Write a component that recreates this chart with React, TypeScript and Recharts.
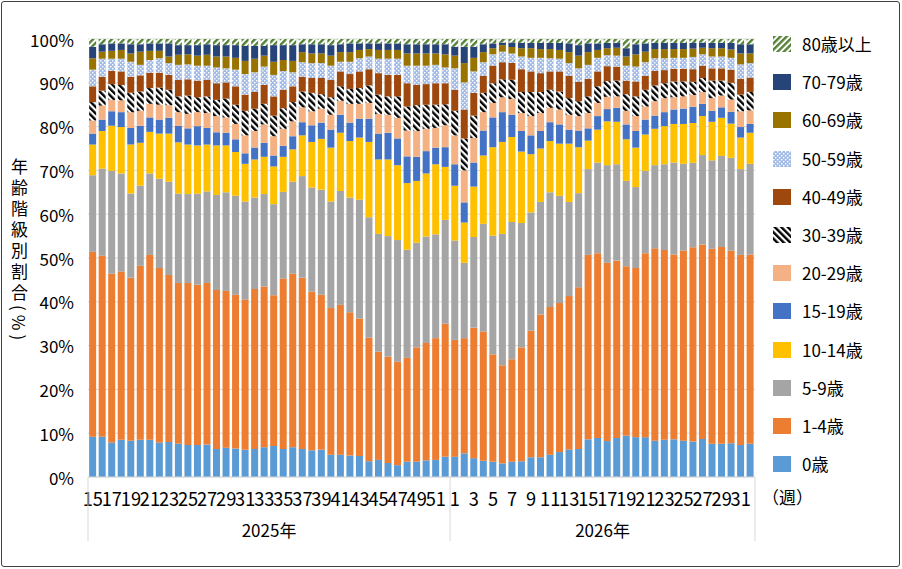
import React from "react";
import { Bar, BarChart, CartesianGrid, XAxis, YAxis } from "recharts";

const FONT = '"Noto Sans CJK JP", "Noto Sans", sans-serif';

// Week numbers shown on the category axis (2025: W15–W52, 2026: W1–W32)
const weeks2025 = [
  15, 16, 17, 18, 19, 20, 21, 22, 23, 24, 25, 26, 27, 28, 29, 30, 31, 32, 33,
  34, 35, 36, 37, 38, 39, 40, 41, 42, 43, 44, 45, 46, 47, 48, 49, 50, 51, 52,
];
const weeks2026 = [
  1, 2, 3, 4, 5, 6, 7, 8, 9, 10, 11, 12, 13, 14, 15, 16, 17, 18, 19, 20, 21,
  22, 23, 24, 25, 26, 27, 28, 29, 30, 31, 32,
];

// Share of reported cases per age band (%), one value per week
const age0 = [
  9.2, 9.2, 7.9, 8.5, 8.3, 8.5, 8.5, 7.9, 8.0, 7.6,
  7.3, 7.3, 7.4, 6.4, 6.7, 6.5, 6.2, 6.4, 6.8, 7.1,
  6.4, 6.8, 6.4, 6.1, 6.2, 5.1, 5.1, 4.9, 4.8, 3.6,
  3.9, 3.2, 2.7, 3.5, 3.5, 3.8, 3.9, 4.6, 4.6, 5.4,
  4.3, 3.7, 3.5, 3.1, 3.5, 3.6, 4.5, 4.5, 5.1, 5.7,
  6.3, 6.4, 8.6, 8.9, 8.2, 8.9, 9.4, 9.1, 9.1, 8.3,
  8.5, 8.6, 8.3, 8.1, 8.7, 7.6, 7.6, 7.7, 7.3, 7.6,
];
const age1to4 = [
  42.2, 41.3, 38.5, 38.4, 37.2, 39.7, 42.2, 39.8, 38.1, 36.7,
  37.0, 36.6, 36.9, 36.3, 35.8, 35.1, 34.3, 36.5, 36.7, 34.4,
  38.9, 39.6, 39.1, 36.2, 35.4, 33.5, 34.2, 32.7, 31.4, 28.2,
  24.7, 24.3, 23.6, 23.7, 26.1, 26.8, 27.8, 30.4, 26.7, 26.3,
  29.8, 29.5, 24.5, 22.4, 23.4, 26.0, 28.9, 32.6, 33.7, 34.0,
  35.0, 36.9, 42.1, 42.2, 40.7, 40.5, 38.7, 38.6, 42.0, 43.9,
  43.3, 42.2, 43.4, 44.4, 44.4, 44.5, 44.9, 43.9, 43.4, 43.2,
];
const age5to9 = [
  17.5, 19.9, 23.5, 22.4, 19.2, 18.3, 18.6, 20.4, 21.3, 20.4,
  20.3, 20.8, 20.9, 21.7, 22.5, 22.6, 22.4, 20.9, 21.1, 20.8,
  19.8, 21.0, 23.2, 23.8, 24.0, 24.3, 26.0, 26.2, 27.1, 27.5,
  26.9, 27.5, 27.8, 24.7, 23.9, 24.3, 23.7, 23.7, 22.7, 17.2,
  20.7, 24.6, 27.1, 30.0, 31.3, 28.4, 27.0, 25.7, 26.2, 24.5,
  21.5, 21.5, 19.6, 20.7, 22.3, 22.0, 19.5, 18.5, 18.8, 19.0,
  19.6, 21.0, 19.8, 19.3, 20.4, 20.2, 20.8, 21.2, 19.6, 20.7,
];
const age10to14 = [
  7.0, 8.6, 10.3, 10.6, 11.2, 9.8, 9.5, 10.3, 11.0, 11.7,
  11.3, 11.0, 10.7, 11.3, 10.7, 10.0, 8.6, 8.7, 8.5, 8.6,
  8.0, 7.4, 9.3, 10.4, 11.6, 12.3, 13.3, 12.9, 14.2, 17.2,
  17.0, 17.5, 17.1, 15.2, 14.1, 14.4, 16.0, 12.1, 12.5, 9.2,
  11.5, 15.6, 20.2, 21.0, 19.4, 16.3, 13.3, 12.2, 11.7, 11.9,
  13.3, 10.5, 6.5, 7.5, 10.0, 9.7, 9.5, 9.0, 8.3, 8.3,
  8.7, 8.8, 9.1, 9.1, 8.9, 8.8, 8.7, 7.8, 7.2, 7.1,
];
const age15to19 = [
  2.5, 2.6, 3.3, 3.4, 3.8, 3.9, 3.3, 3.2, 3.6, 3.8,
  3.7, 4.4, 3.8, 3.0, 2.9, 2.9, 2.4, 2.7, 3.2, 2.5,
  2.5, 3.0, 3.0, 3.8, 3.7, 4.1, 4.1, 4.2, 4.3, 5.3,
  5.9, 6.1, 6.1, 6.1, 5.5, 5.1, 3.8, 4.5, 4.9, 4.6,
  5.5, 5.7, 6.8, 6.8, 5.1, 4.7, 4.3, 4.0, 4.3, 4.4,
  3.2, 3.8, 2.8, 3.1, 2.8, 3.2, 3.4, 3.8, 3.4, 3.0,
  3.2, 3.3, 3.5, 3.7, 2.8, 2.5, 2.4, 2.7, 2.4, 2.0,
];
const age20s = [
  3.0, 3.2, 2.6, 2.7, 3.6, 3.4, 3.1, 3.4, 2.9, 3.1,
  3.3, 3.2, 3.4, 3.7, 3.5, 3.5, 4.1, 3.8, 4.2, 4.4,
  3.9, 3.4, 3.4, 3.2, 3.2, 3.4, 3.2, 4.3, 3.4, 3.6,
  4.5, 4.1, 4.7, 5.9, 5.9, 5.1, 4.5, 5.0, 6.6, 7.3,
  5.6, 4.2, 3.3, 3.4, 3.6, 4.1, 4.4, 4.1, 3.3, 3.4,
  3.4, 3.3, 3.5, 3.0, 2.8, 2.6, 3.1, 3.4, 3.0, 3.3,
  3.2, 2.8, 2.8, 2.7, 2.7, 2.9, 2.7, 2.8, 3.6, 3.1,
];
const age30s = [
  4.2, 3.4, 3.6, 3.5, 4.4, 4.4, 3.6, 3.9, 3.5, 3.6,
  4.2, 3.4, 3.8, 3.7, 4.3, 4.4, 5.6, 5.1, 4.7, 4.7,
  4.7, 4.4, 3.6, 4.2, 3.3, 4.0, 3.3, 3.4, 3.6, 4.0,
  4.4, 4.2, 4.9, 5.5, 5.9, 5.5, 5.3, 4.8, 5.6, 7.3,
  5.1, 4.4, 4.5, 4.1, 4.4, 4.8, 5.5, 4.8, 4.1, 4.1,
  3.8, 3.4, 3.8, 3.8, 3.6, 3.6, 3.8, 4.5, 3.8, 3.6,
  3.4, 3.6, 3.4, 3.0, 3.2, 4.0, 3.4, 3.8, 3.8, 4.2,
];
const age40s = [
  3.6, 3.2, 3.0, 3.1, 3.7, 3.7, 3.5, 3.4, 3.4, 3.8,
  3.7, 3.8, 3.8, 3.8, 3.7, 4.2, 3.7, 3.8, 4.3, 4.4,
  4.2, 3.6, 3.4, 3.4, 3.7, 4.0, 3.4, 3.4, 3.8, 3.7,
  4.9, 4.9, 4.9, 5.3, 4.6, 4.7, 4.9, 4.8, 4.8, 6.6,
  5.2, 3.9, 4.0, 3.9, 3.8, 5.2, 4.7, 4.3, 4.2, 4.6,
  5.1, 4.4, 4.0, 3.4, 3.4, 3.2, 3.1, 3.4, 3.2, 3.3,
  3.0, 2.9, 2.9, 2.9, 2.8, 2.8, 2.8, 3.0, 3.6, 3.3,
];
const age50s = [
  3.8, 4.1, 2.8, 2.9, 3.4, 2.4, 2.9, 3.3, 2.7, 3.4,
  3.4, 3.4, 3.2, 3.6, 3.2, 3.8, 4.7, 4.5, 4.2, 4.9,
  4.3, 3.2, 3.3, 3.4, 3.4, 3.2, 2.2, 2.8, 3.0, 2.9,
  3.3, 3.7, 3.7, 4.0, 4.4, 4.2, 4.2, 3.6, 4.9, 6.2,
  4.9, 3.1, 2.6, 2.4, 2.2, 2.9, 3.1, 3.5, 3.0, 2.9,
  2.9, 3.1, 3.2, 3.1, 2.5, 2.5, 3.4, 3.4, 3.1, 2.9,
  2.7, 2.5, 2.5, 2.8, 2.6, 2.7, 2.7, 2.7, 3.3, 3.3,
];
const age60s = [
  2.6, 1.6, 1.8, 2.0, 1.9, 3.0, 2.1, 1.7, 1.5, 2.3,
  2.3, 2.3, 2.5, 2.5, 2.7, 2.7, 3.0, 3.1, 2.5, 3.0,
  2.5, 2.6, 2.3, 2.2, 2.2, 2.3, 2.2, 2.2, 1.9, 1.7,
  2.0, 2.0, 2.0, 2.8, 2.8, 2.8, 2.6, 3.0, 2.9, 4.4,
  3.1, 2.3, 1.4, 1.5, 1.5, 1.9, 2.2, 2.0, 2.1, 2.0,
  2.5, 2.9, 2.9, 1.8, 1.6, 1.8, 2.1, 2.8, 2.4, 2.1,
  2.1, 2.0, 2.0, 1.9, 1.5, 1.9, 1.9, 1.9, 2.5, 2.2,
];
const age70s = [
  2.6, 1.7, 1.7, 1.5, 2.1, 1.7, 1.7, 1.7, 3.0, 2.2,
  2.1, 2.4, 2.4, 2.6, 2.6, 2.9, 3.4, 2.9, 2.2, 3.8,
  3.4, 3.6, 1.8, 2.1, 2.1, 2.4, 1.8, 2.0, 1.5, 1.3,
  1.5, 1.5, 1.5, 2.1, 2.1, 2.1, 2.1, 2.3, 2.0, 3.7,
  2.5, 1.8, 1.1, 0.6, 1.0, 1.2, 1.2, 1.4, 1.4, 1.6,
  2.0, 2.4, 2.0, 1.5, 1.2, 1.1, 1.9, 2.3, 1.9, 1.4,
  1.4, 1.4, 1.4, 1.3, 1.2, 1.2, 1.2, 1.5, 2.1, 2.1,
];
const age80plus = [
  1.8, 1.2, 1.0, 1.0, 1.2, 1.2, 1.0, 1.0, 1.0, 1.4,
  1.4, 1.4, 1.2, 1.4, 1.4, 1.4, 1.6, 1.6, 1.6, 1.4,
  1.4, 1.4, 1.2, 1.2, 1.2, 1.4, 1.2, 1.0, 1.0, 1.0,
  1.0, 1.0, 1.0, 1.2, 1.2, 1.2, 1.2, 1.2, 1.8, 1.8,
  1.8, 1.2, 1.0, 0.8, 0.8, 0.9, 0.9, 0.9, 0.9, 0.9,
  1.0, 1.4, 1.0, 1.0, 0.9, 0.9, 2.1, 1.2, 1.0, 0.9,
  0.9, 0.9, 0.9, 0.9, 0.8, 0.9, 0.9, 0.9, 1.2, 1.2,
];

const yTicks = [0, 0.1, 0.2, 0.3, 0.4, 0.5, 0.6, 0.7, 0.8, 0.9, 1];

// stacking order is bottom → top
const SERIES = [
  { key: "age0", label: "0歳", values: age0, fill: "#5B9BD5" },
  { key: "age1to4", label: "1-4歳", values: age1to4, fill: "#ED7D31" },
  { key: "age5to9", label: "5-9歳", values: age5to9, fill: "#A5A5A5" },
  { key: "age10to14", label: "10-14歳", values: age10to14, fill: "#FFC000" },
  { key: "age15to19", label: "15-19歳", values: age15to19, fill: "#4472C4" },
  { key: "age20s", label: "20-29歳", values: age20s, fill: "#F4B183" },
  { key: "age30s", label: "30-39歳", values: age30s, fill: "url(#pat-30s)" },
  { key: "age40s", label: "40-49歳", values: age40s, fill: "#9E480E" },
  { key: "age50s", label: "50-59歳", values: age50s, fill: "url(#pat-50s)" },
  { key: "age60s", label: "60-69歳", values: age60s, fill: "#997300" },
  { key: "age70s", label: "70-79歳", values: age70s, fill: "#264478" },
  { key: "age80plus", label: "80歳以上", values: age80plus, fill: "url(#pat-80s)" },
];

const weekNo = [...weeks2025, ...weeks2026];
const yearOf = [...weeks2025.map(() => 2025), ...weeks2026.map(() => 2026)];

const rows = weekNo.map((w, i) => {
  const row: Record<string, number | string> = { id: `${yearOf[i]}-${w}` };
  SERIES.forEach((s) => {
    row[s.key] = s.values[i];
  });
  return row;
});

// layout of the plot box, in page pixels
const W = 902;
const H = 569;
const PLOT_LEFT = 88;
const PLOT_RIGHT = 755;
const PLOT_TOP = 39;
const PLOT_BOTTOM = 477;
const STEP = (PLOT_RIGHT - PLOT_LEFT) / rows.length;
const AXIS_H = 80;

function CategoryTick(props: any) {
  const { x, index } = props;
  const out: React.ReactNode[] = [];
  if (weekNo[index] % 2 === 1) {
    // the source uses a narrow gothic face: labels sit shoulder to shoulder
    out.push(
      <text key="w" transform={`translate(${x},${PLOT_BOTTOM + 20}) scale(0.96,1)`} textAnchor="middle"
        dominantBaseline="central" fontSize={19} fill="#000" fontFamily={FONT}>
        {weekNo[index]}
      </text>
    );
  }
  const isStart = index === 0 || yearOf[index] !== yearOf[index - 1];
  if (isStart) {
    const len = yearOf.filter((y) => y === yearOf[index]).length;
    const left = x - STEP / 2;
    out.push(<line key="l" x1={left} x2={left} y1={PLOT_BOTTOM} y2={PLOT_BOTTOM + 64} stroke="#D9D9D9" />);
    out.push(
      <text key="y" x={left + (len * STEP) / 2} y={PLOT_BOTTOM + 52} textAnchor="middle"
        dominantBaseline="central" fontSize={17} fill="#000" fontFamily={FONT}>
        {yearOf[index]}年
      </text>
    );
  }
  if (index === rows.length - 1) {
    const right = x + STEP / 2;
    out.push(<line key="r" x1={right} x2={right} y1={PLOT_BOTTOM} y2={PLOT_BOTTOM + 64} stroke="#D9D9D9" />);
  }
  return <g>{out}</g>;
}

function PercentTick(props: any) {
  const { y, payload } = props;
  return (
    <text x={74} y={y} textAnchor="end" dominantBaseline="central" fontSize={17} fill="#000" fontFamily={FONT}>
      {Math.round(payload.value * 100)}%
    </text>
  );
}

function Swatch({ fill }: { fill: string }) {
  return (
    <svg width={18} height={16} style={{ display: "block" }}>
      <rect x={0} y={0} width={18} height={16} fill={fill} />
    </svg>
  );
}

function AgeLegend() {
  const items = [...SERIES].reverse();
  return (
    <div style={{ position: "absolute", left: 773, top: 44, width: 125 }}>
      {items.map((s, i) => (
        <div key={s.key} style={{ position: "absolute", left: 0, top: i * 38.2 - 9, height: 18,
          display: "flex", alignItems: "center" }}>
          <Swatch fill={s.fill} />
          <span style={{ marginLeft: 11, fontSize: 17, lineHeight: "18px", color: "#000", whiteSpace: "nowrap" }}>
            {s.label}
          </span>
        </div>
      ))}
    </div>
  );
}

export default function App() {
  return (
    <div style={{ position: "absolute", left: 0, top: 0, width: W, height: H, background: "#fff", fontFamily: FONT }}>
      <svg width={0} height={0} style={{ position: "absolute" }}>
        <defs>
          <pattern id="pat-30s" patternUnits="userSpaceOnUse" width={4.6} height={4.6} patternTransform="rotate(-45)">
            <rect width={4.6} height={4.6} fill="#fff" />
            <rect width={2.4} height={4.6} fill="#000" />
          </pattern>
          <pattern id="pat-80s" patternUnits="userSpaceOnUse" width={4.4} height={4.4} patternTransform="rotate(45)">
            <rect width={4.4} height={4.4} fill="#fff" />
            <rect width={2.4} height={4.4} fill="#548235" />
          </pattern>
          <pattern id="pat-50s" patternUnits="userSpaceOnUse" width={4} height={4}>
            <rect width={4} height={4} fill="#A3BCE6" />
            <rect x={0} y={0} width={1.4} height={1.4} fill="#fff" />
            <rect x={2} y={2} width={1.4} height={1.4} fill="#fff" />
          </pattern>
        </defs>
      </svg>

      <BarChart
        width={W}
        height={H}
        data={rows}
        stackOffset="expand"
        barCategoryGap="12%"
        margin={{ top: PLOT_TOP, right: W - PLOT_RIGHT, bottom: H - PLOT_BOTTOM - AXIS_H, left: 0 }}
      >
        <CartesianGrid vertical={false} stroke="#D9D9D9" />
        <XAxis
          dataKey="id"
          interval={0}
          height={AXIS_H}
          tickLine={false}
          axisLine={{ stroke: "#D9D9D9" }}
          tick={<CategoryTick />}
        />
        <YAxis
          width={PLOT_LEFT}
          domain={[0, 1]}
          ticks={yTicks}
          axisLine={false}
          tickLine={false}
          tick={<PercentTick />}
        />
        {SERIES.map((s) => (
          <Bar key={s.key} dataKey={s.key} name={s.label} stackId="age" fill={s.fill} isAnimationActive={false} />
        ))}
      </BarChart>

      <AgeLegend />
      <div style={{ position: "absolute", left: 11, top: 158, writingMode: "vertical-rl", fontSize: 17,
        letterSpacing: 4, lineHeight: 1, color: "#000" }}>
        年齢階級別割合(%)
      </div>
      <div style={{ position: "absolute", left: 762, top: PLOT_BOTTOM + 9, fontSize: 17, lineHeight: "22px", color: "#000" }}>
        （週）
      </div>
      <div style={{ position: "absolute", left: 1, top: 1, width: 899, height: 566, boxSizing: "border-box",
        border: "1px solid #404040", borderRadius: 3, pointerEvents: "none" }} />
    </div>
  );
}
